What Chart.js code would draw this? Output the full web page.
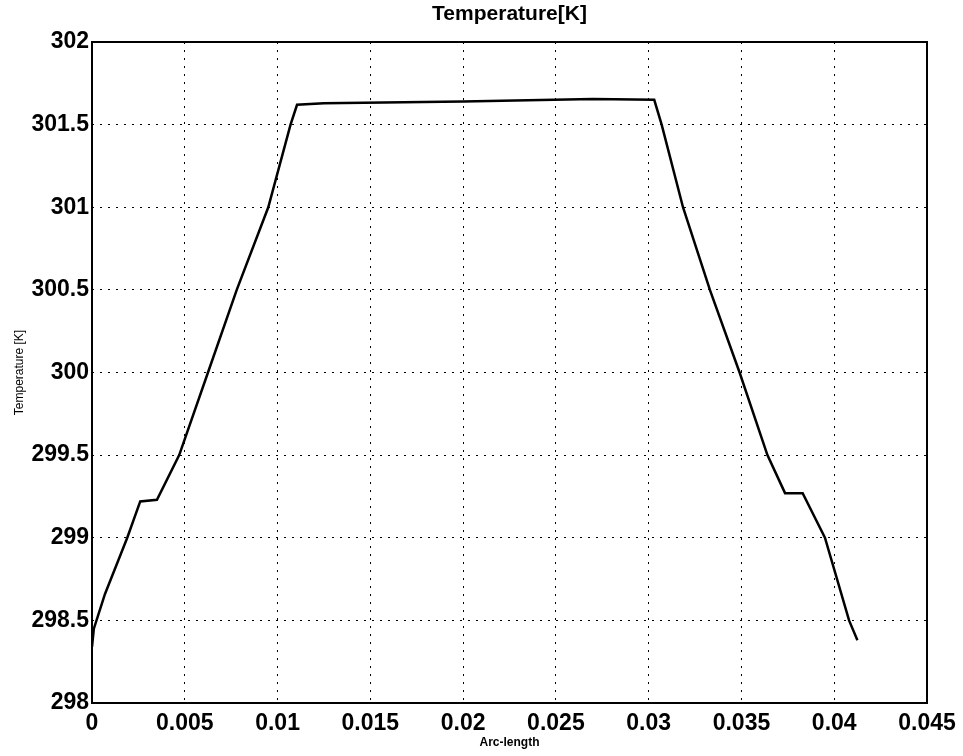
<!DOCTYPE html>
<html>
<head>
<meta charset="utf-8">
<script src="https://cdn.jsdelivr.net/npm/chart.js@4/dist/chart.umd.min.js"></script>
<style>
  html, body { margin: 0; padding: 0; background: #fff; }
  #wrap { width: 963px; height: 756px; }
</style>
</head>
<body>
<div id="wrap"><canvas id="tempChart" width="963" height="756"></canvas></div>
<script>
// values
const arcLength = [0, 0.0001, 0.0007, 0.0019, 0.0026, 0.0035, 0.0047, 0.00625, 0.0078, 0.0095, 0.0107, 0.01105,
                   0.0125, 0.02, 0.027, 0.0303, 0.0307, 0.03185, 0.0333, 0.0349, 0.0364, 0.03735, 0.0383, 0.0395, 0.0408, 0.04125];
const temperature = [298.34, 298.45, 298.66, 299.0, 299.22, 299.23, 299.5, 300.0, 300.5, 301.0, 301.5, 301.62,
                     301.63, 301.64, 301.655, 301.65, 301.5, 301.0, 300.5, 300.0, 299.5, 299.27, 299.27, 299.0, 298.5, 298.38];
const xTicks = [0, 0.005, 0.01, 0.015, 0.02, 0.025, 0.03, 0.035, 0.04, 0.045];
const yTicks = [298, 298.5, 299, 299.5, 300, 300.5, 301, 301.5, 302];

const points = arcLength.map((x, i) => ({ x: x, y: temperature[i] }));

const tickFont = { family: 'Liberation Sans, Arial, sans-serif', size: 23, weight: 'bold' };

// box around the plot area, like matlab
const frameBox = {
    id: 'frameBox',
    afterDraw(chart) {
        const a = chart.chartArea;
        const ctx = chart.ctx;
        ctx.save();
        ctx.strokeStyle = '#000';
        ctx.lineWidth = 2;
        ctx.strokeRect(a.left, a.top, a.right - a.left, a.bottom - a.top);
        ctx.restore();
    }
};

const ctx = document.getElementById('tempChart').getContext('2d');
const tempChart = new Chart(ctx, {
    type: 'line',
    data: {
        datasets: [{
            label: 'Temperature',
            data: points,
            borderColor: '#000',
            borderWidth: 2.5,
            pointRadius: 0,
            tension: 0,
            fill: false
        }]
    },
    options: {
        responsive: false,
        animation: false,
        layout: { padding: { left: 0, right: 36, top: 0, bottom: 0 } },
        scales: {
            x: {
                type: 'linear',
                min: 0,
                max: 0.045,
                afterBuildTicks: (scale) => { scale.ticks = xTicks.map(v => ({ value: v })); },
                afterFit: (scale) => { scale.height = 53; },
                ticks: {
                    color: '#000',
                    font: tickFont,
                    padding: 7,
                    maxRotation: 0,
                    callback: (v) => String(v)
                },
                grid: { color: '#000', lineWidth: 1, drawTicks: false },
                border: { display: false, dash: [2, 6] },
                title: {
                    display: true,
                    text: 'Arc-length',
                    color: '#000',
                    font: { family: 'Liberation Sans, Arial, sans-serif', size: 12, weight: 'bold' },
                    padding: { top: 0, bottom: 6 }
                }
            },
            y: {
                min: 298,
                max: 302,
                afterBuildTicks: (scale) => { scale.ticks = yTicks.map(v => ({ value: v })); },
                afterFit: (scale) => { scale.width = 92; },
                ticks: {
                    color: '#000',
                    font: tickFont,
                    padding: 3,
                    callback: (v) => String(v)
                },
                grid: { color: '#000', lineWidth: 1, drawTicks: false },
                border: { display: false, dash: [2, 6] },
                title: {
                    display: true,
                    text: 'Temperature [K]',
                    color: '#000',
                    font: { family: 'Liberation Sans, Arial, sans-serif', size: 12 },
                    padding: { top: 12, bottom: 0 }
                }
            }
        },
        plugins: {
            legend: { display: false },
            tooltip: { enabled: false },
            title: {
                display: true,
                fullSize: false,
                text: 'Temperature[K]',
                color: '#000',
                font: { family: 'Liberation Sans, Arial, sans-serif', size: 21, weight: 'bold', lineHeight: '24px' },
                padding: { top: 2, bottom: 16 }
            }
        }
    },
    plugins: [frameBox]
});
</script>
</body>
</html>
